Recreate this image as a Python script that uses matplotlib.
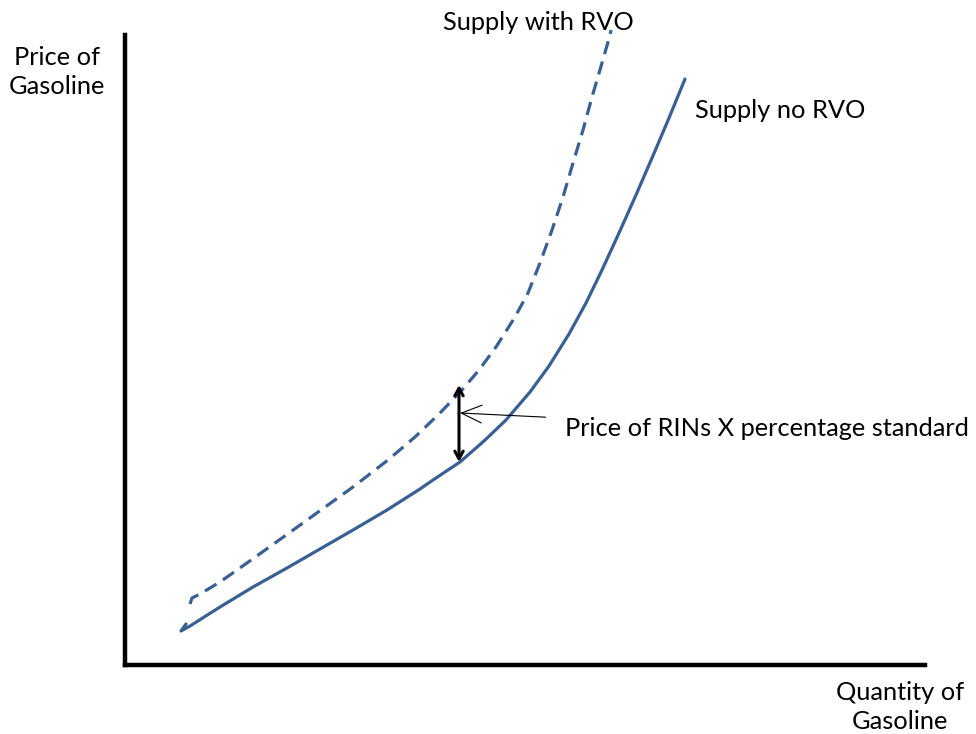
import matplotlib
matplotlib.use("Agg")
import matplotlib.pyplot as plt

plt.rcParams['font.family'] = ['Lato', 'DejaVu Sans']

# Curve points: quantity (x) and price (y)
supply_no_rvo_q = [61, 56, 65, 95, 128, 162, 195, 228, 262, 295, 308, 335, 359, 381,
                   405, 424, 444, 461, 477, 494, 511, 527, 544, 560]
supply_no_rvo_p = [41, 34, 39, 58, 78, 97, 116, 135, 155, 176, 185, 203, 224, 245,
                   273, 299, 331, 362, 395, 432, 470, 507, 547, 586]

supply_rvo_q = [65, 67, 75, 95, 129, 164, 196, 228, 263, 290, 315, 337, 354, 371, 390,
                403, 415, 427, 438, 448, 458, 467, 477, 485, 486]
supply_rvo_p = [61, 67, 71, 83, 107, 132, 155, 178, 205, 228, 252, 275, 295, 318, 348,
                372, 402, 435, 468, 502, 535, 568, 602, 630, 635]

# RIN wedge
wedge_q = 334
wedge_low, wedge_high = 203, 280

line_color = '#3A6093'
fs = 18.3

fig = plt.figure(figsize=(9.76, 7.34), dpi=100)
ax = fig.add_axes([125 / 976, 69 / 734, 800 / 976, 630 / 734])
ax.set_xlim(0, 800)
ax.set_ylim(0, 630)

ax.plot(supply_no_rvo_q, supply_no_rvo_p, color=line_color, lw=2.3,
        solid_capstyle='round', solid_joinstyle='round', clip_on=False)
ax.plot(supply_rvo_q, supply_rvo_p, color=line_color, lw=2.3,
        linestyle=(0, (4.2, 2.4)), dash_capstyle='butt', clip_on=False)

ax.annotate('', xy=(wedge_q, wedge_high), xytext=(wedge_q, wedge_low),
            arrowprops=dict(arrowstyle='<->,head_length=0.55,head_width=0.3',
                            lw=2.2, color='black', shrinkA=0, shrinkB=0))
ax.annotate('Price of RINs X percentage standard', xy=(wedge_q + 1, 252),
            xytext=(440, 237), fontsize=fs, va='center', ha='left',
            arrowprops=dict(arrowstyle='->,head_length=0.8,head_width=0.35',
                            lw=0.8, color='black', shrinkA=12, shrinkB=0))

ax.text(318, 643, 'Supply with RVO', fontsize=fs, ha='left', va='center', clip_on=False)
ax.text(570, 554, 'Supply no RVO', fontsize=fs, ha='left', va='center', clip_on=False)
ax.text(-68, 593, 'Price of\nGasoline', fontsize=fs, ha='center', va='center',
        linespacing=1.3, clip_on=False)
ax.text(775, -42, 'Quantity of\nGasoline', fontsize=fs, ha='center', va='center',
        linespacing=1.3, clip_on=False)

for s in ['top', 'right']:
    ax.spines[s].set_visible(False)
for s in ['left', 'bottom']:
    ax.spines[s].set_linewidth(3.2)
    ax.spines[s].set_color('black')
ax.set_xticks([])
ax.set_yticks([])

fig.savefig('out.png', dpi=100, facecolor='white')
